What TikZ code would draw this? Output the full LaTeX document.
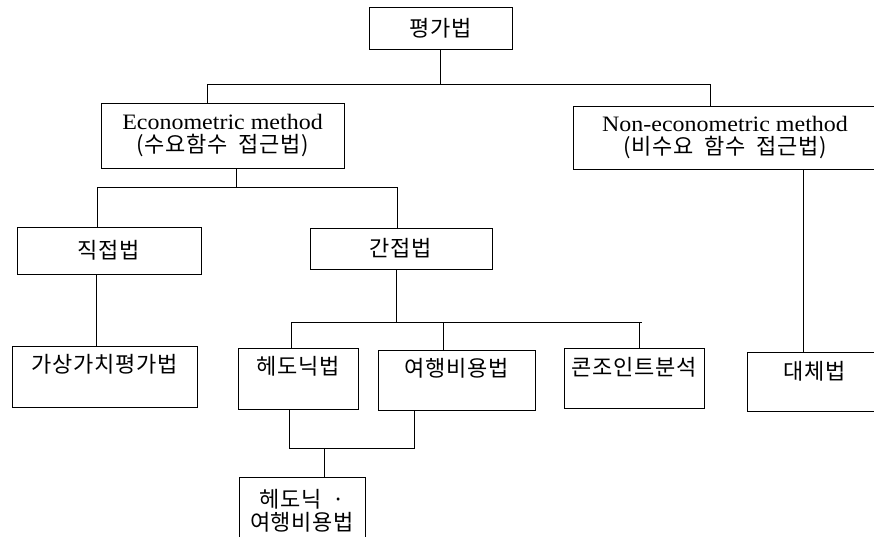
\documentclass[tikz,border=0pt]{standalone}
\usepackage{fontspec}
\setmainfont{Liberation Serif}
\newfontfamily\kr[LetterSpace=3,WordSpace=2]{Noto Sans CJK KR}
\newfontfamily\lat[FakeStretch=1.09]{Liberation Serif}
\newcommand{\latline}[1]{{\lat\fontsize{22}{23}\selectfont #1}}
\begin{document}
\begin{tikzpicture}[x=1pt,y=-1pt,
  bx/.style={draw, line width=0.7pt, inner sep=0pt, align=center,
    font=\fontsize{22}{23}\selectfont\kr},
  topbox/.style={bx, anchor=north, text height=#1},
  ln/.style={line width=0.7pt}]
\useasboundingbox (0,0) rectangle (874,537);
\clip (0,0) rectangle (874,537);
% level 0
\node[bx, minimum width=143pt, minimum height=42pt] (top) at (440.5,28) {평가법};
% level 1
\node[bx, minimum width=243pt, minimum height=65pt] (econ) at (222.5,136)
  {\latline{Econometric method}\\(수요함수 접근법)};
\node[bx, minimum width=304pt, minimum height=63pt] (nonecon) at (725,137.5)
  {\latline{Non-econometric method}\\(비수요 함수 접근법)};
% level 2
\node[bx, minimum width=184pt, minimum height=47pt] (direct) at (109,250.5) {직접법};
\node[bx, minimum width=182pt, minimum height=41pt] (indirect) at (401,248.5) {간접법};
% level 3
\node[topbox=26pt, text depth=35pt, minimum width=185pt] (cvm) at (104.5,346) {가상가치평가법};
\node[topbox=26pt, text depth=35pt, minimum width=120pt] (hed) at (298,348) {헤도닉법};
\node[topbox=26pt, text depth=34pt, minimum width=157pt] (trav) at (456.5,350) {여행비용법};
\node[topbox=27pt, text depth=33pt, minimum width=140pt] (conj) at (634,348) {콘조인트분석};
\node[topbox=27pt, text depth=32pt, minimum width=136pt] (subst) at (815,352) {대체법};
% level 4
\node[bx, anchor=north, inner ysep=5pt, minimum width=126pt, minimum height=66pt] (htc) at (302,477) {헤도닉 ·\\여행비용법};
% coordinates
\coordinate (b1l) at (207,84);
\coordinate (b1r) at (710,84);
\coordinate (b2l) at (97,187);
\coordinate (b2r) at (397,187);
\coordinate (b2m) at (236,187);
\coordinate (v1) at (96,0);
\coordinate (b3m) at (396,322);
\coordinate (b3l) at (291,322);
\coordinate (b3r) at (642,322);
\coordinate (d2) at (443,322);
\coordinate (d3) at (639,322);
\coordinate (b4l) at (289,448);
\coordinate (b4r) at (414,448);
\coordinate (b4m) at (324,448);
\coordinate (v2) at (803,0);
% connectors
\draw[ln] (top.south) -- (top.south |- b1l);
\draw[ln] (econ.north -| b1l) -- (b1l) -- (b1r) -- (nonecon.north -| b1r);
\draw[ln] (econ.south -| b2m) -- (b2m);
\draw[ln] (direct.north -| b2l) -- (b2l) -- (b2r) -- (indirect.north -| b2r);
\draw[ln] (direct.south -| v1) -- (cvm.north -| v1);
\draw[ln] (indirect.south -| b3m) -- (b3m);
\draw[ln] (b3l) -- (b3r);
\draw[ln] (b3l) -- (hed.north -| b3l);
\draw[ln] (d2) -- (trav.north -| d2);
\draw[ln] (d3) -- (conj.north -| d3);
\draw[ln] (hed.south -| b4l) -- (b4l) -- (b4r) -- (trav.south -| b4r);
\draw[ln] (b4m) -- (htc.north -| b4m);
\draw[ln] (nonecon.south -| v2) -- (subst.north -| v2);
\end{tikzpicture}
\end{document}
